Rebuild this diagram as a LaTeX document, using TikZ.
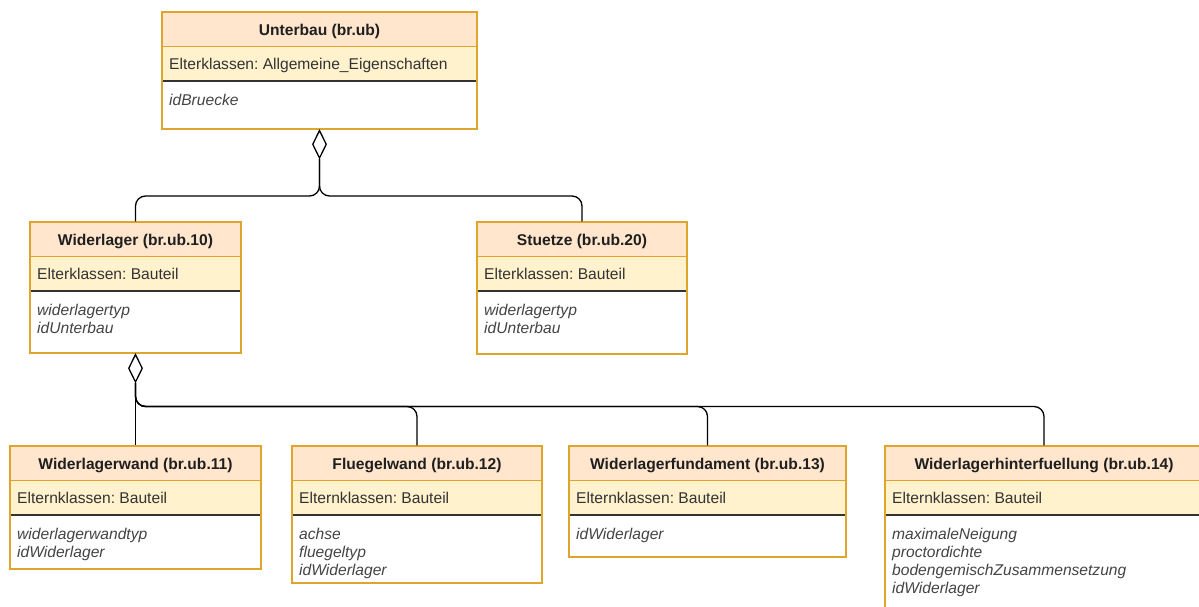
\documentclass[tikz,border=0pt]{standalone}
\usepackage{fontspec}
\setmainfont{Liberation Sans}
\usetikzlibrary{shapes.geometric,fit}
\frenchspacing

\definecolor{clsborder}{RGB}{222,164,44}
\definecolor{hdrfill}{HTML}{FFE6CC}
\definecolor{rowfill}{HTML}{FFF2CC}
\definecolor{txtdark}{HTML}{1F1F1F}
\definecolor{txtmid}{HTML}{333333}
\definecolor{txtattr}{HTML}{444444}

\tikzset{
  clsframe/.style={draw=clsborder, line width=1.3pt, inner sep=0pt},
  rowline/.style={draw=clsborder, line width=1pt},
  sepline/.style={draw=black!80, line width=1.8pt},
  titletext/.style={font=\fontsize{15.6}{18}\selectfont\bfseries, text=txtdark, inner sep=0pt, anchor=base},
  parenttext/.style={font=\fontsize{15.6}{18}\selectfont, text=txtmid, inner sep=0pt, anchor=base west},
  attrtext/.style={font=\fontsize{15.6}{18}\selectfont\itshape, text=txtattr, inner sep=0pt, anchor=base west},
  conn/.style={draw=black, line width=1.3pt, rounded corners=10pt},
  aggdiamond/.style={diamond, draw=black, fill=white, line width=1.3pt, inner sep=0pt,
                     minimum width=14pt, minimum height=28pt, anchor=north},
}

% UML class: name, x1, y1, x2, y2, title, parent classes, attribute list
\newcommand{\umlclass}[8]{%
  \fill[hdrfill] (#2,#3) rectangle (#4,#3+34.5);
  \fill[rowfill] (#2,#3+34.5) rectangle (#4,#3+69);
  \fill[white] (#2,#3+69) rectangle (#4,#5);
  \draw[rowline] (#2,#3+34.5) -- (#4,#3+34.5);
  \draw[sepline] (#2,#3+69) -- (#4,#3+69);
  \node[clsframe, fit={(#2,#3) (#4,#5)}] (#1) {};
  \node[titletext] (#1-title) at ({(#2+#4)/2},#3+23.5) {#6};
  \node[parenttext] (#1-parent) at (#2+7,#3+57.5) {#7};
  \foreach \attr [count=\k] in {#8} {
    \node[attrtext] (#1-attr\k) at (#2+7,{#3+93.5+(\k-1)*18}) {\attr};
  }
}

\begin{document}
\begin{tikzpicture}[x=1pt, y=-1pt]
  \useasboundingbox (0,0) rectangle (1199,607);
  \clip (0,0) rectangle (1199,607);
  \fill[white] (0,0) rectangle (1199,607);

  \umlclass{ub}{162}{12}{477}{129}{Unterbau (br.ub)}{Elterklassen: Allgemeine\_Eigenschaften}{idBruecke}
  \umlclass{wl}{30}{222}{241}{353}{Widerlager (br.ub.10)}{Elterklassen: Bauteil}{widerlagertyp,idUnterbau}
  \umlclass{st}{477}{222}{687}{354}{Stuetze (br.ub.20)}{Elterklassen: Bauteil}{widerlagertyp,idUnterbau}
  \umlclass{ww}{10}{446}{261}{569}{Widerlagerwand (br.ub.11)}{Elternklassen: Bauteil}{widerlagerwandtyp,idWiderlager}
  \umlclass{fw}{292}{446}{542}{583}{Fluegelwand (br.ub.12)}{Elternklassen: Bauteil}{achse,fluegeltyp,idWiderlager}
  \umlclass{wf}{569}{446}{846}{557}{Widerlagerfundament (br.ub.13)}{Elternklassen: Bauteil}{idWiderlager}
  \umlclass{wh}{885}{446}{1203}{625}{Widerlagerhinterfuellung (br.ub.14)}{Elternklassen: Bauteil}{maximaleNeigung,proctordichte,bodengemischZusammensetzung,idWiderlager}

  % aggregation diamonds
  \node[aggdiamond] (ub-agg) at (ub.south) {};
  \node[aggdiamond] (wl-agg) at (wl.south) {};

  % bus levels
  \coordinate (busA) at (0,196);
  \coordinate (busB) at (0,406.5);

  % Unterbau aggregates Widerlager and Stuetze
  \draw[conn] (wl.north) |- (ub-agg.south |- busA) -- (ub-agg.south);
  \draw[conn] (st.north) |- (ub-agg.south |- busA) -- (ub-agg.south);

  % Widerlager aggregates its parts
  \draw[conn] (wl-agg.south) -- (ww.north);
  \draw[conn] (wl-agg.south) |- (fw.north |- busB) -- (fw.north);
  \draw[conn] (wl-agg.south) |- (wf.north |- busB) -- (wf.north);
  \draw[conn] (wl-agg.south) |- (wh.north |- busB) -- (wh.north);
\end{tikzpicture}
\end{document}
